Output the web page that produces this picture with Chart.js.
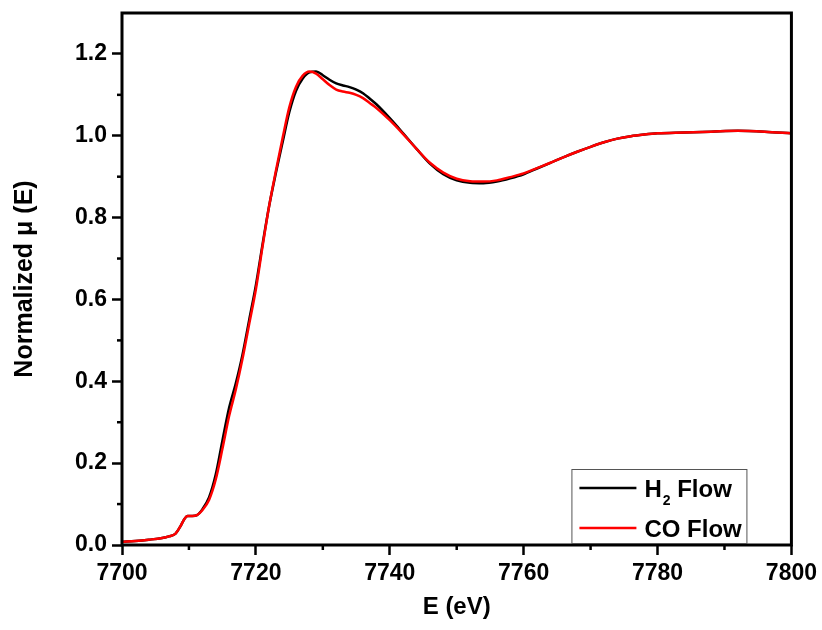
<!DOCTYPE html>
<html>
<head>
<meta charset="utf-8">
<title>Normalized XANES</title>
<script src="https://cdn.jsdelivr.net/npm/chart.js@4.4.1/dist/chart.umd.min.js"></script>
<style>
  html, body { margin: 0; padding: 0; background: #fff; }
  #wrap { width: 822px; height: 630px; }
</style>
</head>
<body>
<div id="wrap"><canvas id="xanes-chart" width="822" height="630"></canvas></div>
<script>
// photon energy (eV), shared by both scans
const energy = [7700, 7702, 7704, 7706, 7707, 7708, 7708.7, 7709.3, 7709.8, 7710.5, 7711.2,
    7712, 7713, 7714, 7715, 7716, 7717, 7718, 7719, 7720, 7721, 7722, 7723, 7724, 7725,
    7726, 7727, 7728, 7729, 7730, 7731, 7732, 7733, 7734, 7735, 7736, 7737, 7738, 7740,
    7742, 7744, 7746, 7748, 7750, 7752, 7754, 7756, 7758, 7760, 7762, 7764, 7766, 7768,
    7770, 7772, 7774, 7776, 7778, 7780, 7784, 7788, 7792, 7796, 7800];

const h2Flow = [0.008, 0.010, 0.013, 0.017, 0.021, 0.028, 0.045, 0.063, 0.071, 0.071, 0.073,
    0.087, 0.116, 0.172, 0.255, 0.335, 0.395, 0.465, 0.550, 0.635, 0.735, 0.830, 0.910, 0.985, 1.058,
    1.110, 1.140, 1.155, 1.157, 1.148, 1.137, 1.128, 1.123, 1.119, 1.113, 1.104, 1.091, 1.077, 1.043,
    1.006, 0.968, 0.932, 0.906, 0.891, 0.885, 0.884, 0.888, 0.896, 0.906, 0.920, 0.934, 0.948, 0.961,
    0.973, 0.984, 0.993, 0.999, 1.003, 1.006, 1.008, 1.010, 1.012, 1.010, 1.006];

const coFlow = [0.008, 0.010, 0.013, 0.017, 0.021, 0.028, 0.045, 0.063, 0.071, 0.071, 0.073,
    0.085, 0.110, 0.160, 0.235, 0.315, 0.380, 0.455, 0.540, 0.625, 0.730, 0.830, 0.915, 0.995, 1.070,
    1.120, 1.147, 1.157, 1.152, 1.138, 1.124, 1.113, 1.108, 1.105, 1.100, 1.092, 1.080, 1.068, 1.038,
    1.004, 0.968, 0.934, 0.910, 0.895, 0.889, 0.888, 0.891, 0.899, 0.908, 0.921, 0.934, 0.948, 0.961,
    0.973, 0.984, 0.993, 0.999, 1.003, 1.006, 1.008, 1.010, 1.012, 1.010, 1.006];

const seriesNames = ['H\u2082 Flow', 'CO Flow'];
const seriesColors = ['#000000', '#ff0000'];

const xMajor = [7700, 7720, 7740, 7760, 7780, 7800];
const xMinor = [7710, 7730, 7750, 7770, 7790];
const yMajor = [0, 0.2, 0.4, 0.6, 0.8, 1.0, 1.2];
const yMinor = [0.1, 0.3, 0.5, 0.7, 0.9, 1.1];

const FONT = '"Liberation Sans", Arial, sans-serif';

function toPoints(values) {
    return energy.map((e, i) => ({ x: e, y: values[i] }));
}

// box around the plot plus the short minor ticks
const framePlugin = {
    id: 'frame',
    afterDraw(chart) {
        const { ctx, chartArea: a, scales } = chart;
        ctx.save();
        ctx.strokeStyle = '#000';
        ctx.lineWidth = 2.5;
        xMinor.forEach(v => {
            const px = scales.x.getPixelForValue(v);
            ctx.beginPath();
            ctx.moveTo(px, a.bottom);
            ctx.lineTo(px, a.bottom + 5);
            ctx.stroke();
        });
        yMinor.forEach(v => {
            const py = scales.y.getPixelForValue(v);
            ctx.beginPath();
            ctx.moveTo(a.left, py);
            ctx.lineTo(a.left - 5, py);
            ctx.stroke();
        });
        ctx.lineWidth = 3;
        ctx.strokeRect(a.left, a.top, a.right - a.left, a.bottom - a.top);
        ctx.restore();
    }
};

// boxed legend in the lower right corner, with a subscript in "H2"
const legendPlugin = {
    id: 'boxLegend',
    afterDraw(chart) {
        const { ctx, chartArea: a } = chart;
        const w = 175, h = 74;
        const left = a.right - 45 - w;
        const top = a.bottom - 2 - h;
        ctx.save();
        ctx.fillStyle = '#fff';
        ctx.fillRect(left, top, w, h);
        ctx.strokeStyle = '#555';
        ctx.lineWidth = 1;
        ctx.strokeRect(left + 0.5, top + 0.5, w, h);

        seriesNames.forEach((name, i) => {
            const rowY = top + 19 + i * 40;
            ctx.strokeStyle = seriesColors[i];
            ctx.lineWidth = 2.5;
            ctx.beginPath();
            ctx.moveTo(left + 8, rowY);
            ctx.lineTo(left + 65, rowY);
            ctx.stroke();

            ctx.fillStyle = '#000';
            ctx.textBaseline = 'alphabetic';
            let tx = left + 73;
            const base = rowY + 9;
            const parts = name.split('\u2082');
            ctx.font = 'bold 24px ' + FONT;
            ctx.fillText(parts[0], tx, base);
            tx += ctx.measureText(parts[0]).width;
            if (parts.length > 1) {
                ctx.font = 'bold 14px ' + FONT;
                ctx.fillText('2', tx + 1, base + 8);
                tx += ctx.measureText('2').width + 1;
                ctx.font = 'bold 24px ' + FONT;
                ctx.fillText(parts[1], tx, base);
            }
        });
        ctx.restore();
    }
};

const ctx = document.getElementById('xanes-chart').getContext('2d');

new Chart(ctx, {
    type: 'line',
    data: {
        datasets: [{
            label: seriesNames[0],
            data: toPoints(h2Flow),
            borderColor: seriesColors[0],
            borderWidth: 2.5,
            pointRadius: 0,
            cubicInterpolationMode: 'monotone',
            fill: false,
            order: 1
        }, {
            label: seriesNames[1],
            data: toPoints(coFlow),
            borderColor: seriesColors[1],
            borderWidth: 2.5,
            pointRadius: 0,
            cubicInterpolationMode: 'monotone',
            fill: false,
            order: 0
        }]
    },
    options: {
        responsive: false,
        devicePixelRatio: 1,
        animation: false,
        layout: { padding: { left: 0, top: 13, right: 30, bottom: 0 } },
        plugins: {
            legend: { display: false },
            tooltip: { enabled: false }
        },
        scales: {
            x: {
                type: 'linear',
                min: 7700,
                max: 7800,
                afterFit: scale => { scale.height = 85; },
                afterBuildTicks: scale => { scale.ticks = xMajor.map(v => ({ value: v })); },
                border: { display: false },
                grid: {
                    drawOnChartArea: false,
                    drawTicks: true,
                    tickLength: 10,
                    tickWidth: 2.5,
                    tickColor: '#000'
                },
                ticks: {
                    color: '#000',
                    padding: 5,
                    maxRotation: 0,
                    font: { family: FONT, size: 23, weight: 'bold' },
                    callback: value => String(value)
                },
                title: {
                    display: true,
                    text: 'E (eV)',
                    color: '#000',
                    padding: { top: 0, bottom: 8 },
                    font: { family: FONT, size: 24, weight: 'bold' }
                }
            },
            y: {
                type: 'linear',
                min: 0,
                max: 1.3,
                afterFit: scale => {
                    scale.width = 122;
                    // the top tick sits below the frame, so no room is needed for a label there
                    scale.paddingTop = 0;
                    scale.paddingBottom = 0;
                },
                afterBuildTicks: scale => { scale.ticks = yMajor.map(v => ({ value: v })); },
                border: { display: false },
                grid: {
                    drawOnChartArea: false,
                    drawTicks: true,
                    tickLength: 10,
                    tickWidth: 2.5,
                    tickColor: '#000'
                },
                ticks: {
                    color: '#000',
                    padding: 5,
                    font: { family: FONT, size: 23, weight: 'bold' },
                    callback: value => value.toFixed(1)
                },
                title: {
                    display: true,
                    text: 'Normalized \u03bc (E)',
                    color: '#000',
                    padding: { top: 10, bottom: 0 },
                    font: { family: FONT, size: 25, weight: 'bold' }
                }
            }
        }
    },
    plugins: [framePlugin, legendPlugin]
});
</script>
</body>
</html>
